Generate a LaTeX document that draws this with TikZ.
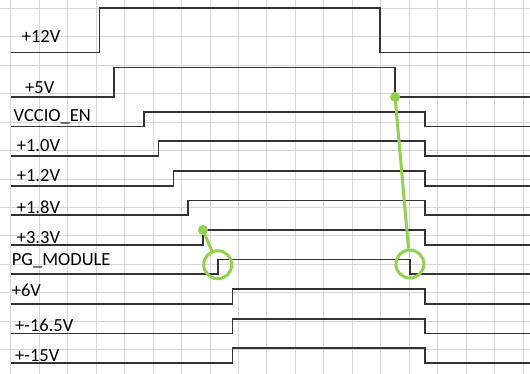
\documentclass[tikz,border=0pt]{standalone}
\usepackage{fontspec}
\setmainfont{Carlito}
\definecolor{gridgray}{HTML}{D6D6D6}
\definecolor{sig}{HTML}{333333}
\definecolor{mark}{HTML}{92D050}
\begin{document}
\begin{tikzpicture}[x=14.78pt,y=-14.78pt,
  gridline/.style={draw=gridgray,line width=0.9pt},
  signal/.style={draw=sig,line width=1.7pt,line join=miter},
  lbl/.style={anchor=base west,inner sep=0pt,font=\fontsize{18.5}{20}\selectfont},
  dotm/.style={circle,fill=mark,inner sep=0pt,minimum size=10pt},
  ringm/.style={circle,draw=mark,line width=3pt,inner sep=0pt,minimum size=28pt},
  link/.style={draw=mark,line width=3pt}]
\path[use as bounding box,fill=white] (-0.7307,-0.5616) rectangle (35.128,24.675);
\draw[gridline] (-1,-1) grid (36,25);
% labels
\node[lbl] (l12) at (0.737,2.327) {+12V};
\node[lbl] (l5) at (0.961,5.751) {+5V};
\node[lbl] (lvcc) at (0.183,7.673) {VCCIO\_EN};
\node[lbl] (l10) at (0.399,9.702) {+1.0V};
\node[lbl] (l12b) at (0.399,11.732) {+1.2V};
\node[lbl] (l18) at (0.399,13.870) {+1.8V};
\node[lbl] (l33) at (0.399,15.900) {+3.3V};
\node[lbl] (lpg) at (0.061,17.402) {PG\_MODULE};
\node[lbl] (l6) at (0.061,19.513) {+6V};
\node[lbl] (l165) at (0.284,21.881) {+-16.5V};
\node[lbl] (l15) at (0.284,23.864) {+-15V};
% signals
\def\E{35.2}
\draw[signal] (0,3) -- (6,3) -- (6,0) -- (25,0) -- (25,3) -- (\E,3);
\draw[signal] (0,6) -- (7,6) -- (7,4) -- (26,4) -- (26,6) -- (\E,6);
\draw[signal] (0,8) -- (9,8) -- (9,7) -- (28,7) -- (28,8) -- (\E,8);
\draw[signal] (0,10) -- (10,10) -- (10,9) -- (28,9) -- (28,10) -- (\E,10);
\draw[signal] (0,12) -- (11,12) -- (11,11) -- (28,11) -- (28,12) -- (\E,12);
\draw[signal] (0,14) -- (12,14) -- (12,13) -- (28,13) -- (28,14) -- (\E,14);
\draw[signal] (0,16) -- (13,16) -- (13,15) -- (28,15) -- (28,16) -- (\E,16);
\draw[signal] (0,18) -- (14,18) -- (14,17) -- (27,17) -- (27,18) -- (\E,18);
\draw[signal] (0,20) -- (15,20) -- (15,19) -- (28,19) -- (28,20) -- (\E,20);
\draw[signal] (0,22) -- (15,22) -- (15,21) -- (28,21) -- (28,22) -- (\E,22);
\draw[signal] (0,24) -- (15,24) -- (15,23) -- (28,23) -- (28,24) -- (\E,24);
% green marks
\node[dotm] (d1) at (13,15) {};
\node[dotm] (d2) at (26,6) {};
\node[ringm] (r1) at (14,17.35) {};
\node[ringm] (r2) at (27,17.3) {};
\draw[link] (d1.center) -- (r1);
\draw[link] (d2.center) -- (r2);
\end{tikzpicture}
\end{document}
